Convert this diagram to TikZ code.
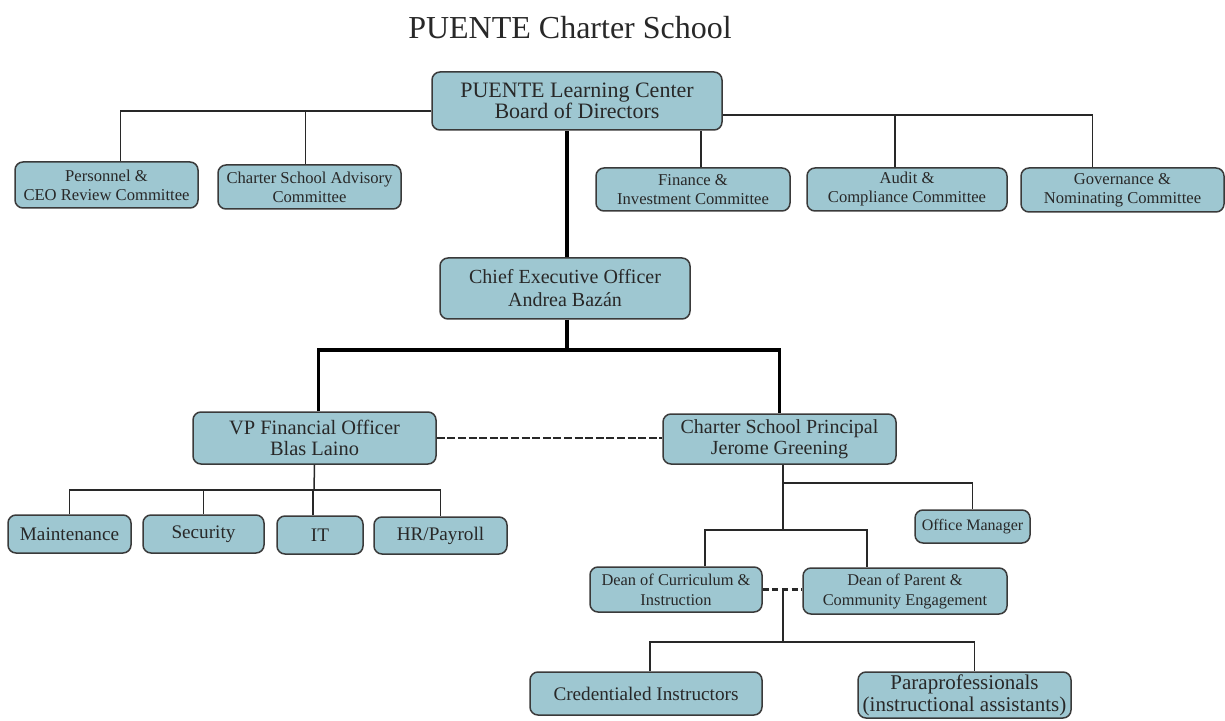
\documentclass[tikz,border=0pt]{standalone}
\usepackage{fontspec}
\setmainfont{Liberation Serif}
\definecolor{boxblue}{RGB}{158,199,209}
\definecolor{boxedge}{RGB}{58,58,58}
\definecolor{ink}{RGB}{40,40,40}
\newcommand{\fs}[2]{\fontsize{#1}{#2}\selectfont}
\begin{document}
\begin{tikzpicture}[x=0.5pt, y=-0.5pt]
        \tikzstyle{box} = [draw=boxedge, fill=boxblue, rounded corners=4pt, line width=0.75pt, align=center, text=ink, inner sep=0pt]
        \tikzstyle{conn} = [draw=ink, line width=0.75pt]
        \tikzstyle{thickconn} = [draw=black, line width=1.8pt]
        \tikzstyle{dashconn} = [draw=ink, line width=1.1pt, dash pattern=on 4pt off 1.3pt]
        \useasboundingbox (0,0) rectangle (1225,721);

        \node[text=ink, font=\fs{16}{18}] (title) at (570,28) {PUENTE Charter School};

        % board and committees
        \node[box, minimum width=145pt, minimum height=29pt, font=\fs{11}{10.5}] (board) at (577,101) {PUENTE Learning Center\\Board of Directors};
        \node[box, minimum width=91.5pt, minimum height=23pt, font=\fs{8.3}{9.5}] (pers) at (106.5,185) {Personnel \&\\CEO Review Committee};
        \node[box, minimum width=91.5pt, minimum height=22pt, font=\fs{8.3}{9.5}] (adv) at (309.5,187) {Charter School Advisory\\Committee};
        \node[box, minimum width=97pt, minimum height=21.5pt, font=\fs{8.3}{9.5}] (fin) at (693,189.5) {Finance \&\\Investment Committee};
        \node[box, minimum width=100pt, minimum height=21.5pt, font=\fs{8.3}{9.5}] (aud) at (907,189.5) {Audit \&\\Compliance Committee};
        \node[box, minimum width=101.5pt, minimum height=22pt, font=\fs{8.3}{9.5}] (gov) at (1122.5,190) {Governance \&\\Nominating Committee};

        % officers
        \node[box, minimum width=125pt, minimum height=30.5pt, font=\fs{10}{11.5}] (ceo) at (565,288.5) {Chief Executive Officer\\Andrea Bazán};
        \node[box, minimum width=121.5pt, minimum height=26pt, font=\fs{10.2}{10.5}] (vp) at (314.5,438) {VP Financial Officer\\Blas Laino};
        \node[box, minimum width=116.5pt, minimum height=25pt, font=\fs{10}{10.5}] (prin) at (779.5,439) {Charter School Principal\\Jerome Greening};

        % finance side
        \node[box, minimum width=61.5pt, minimum height=19pt, font=\fs{9.6}{11}] (maint) at (69.5,534) {Maintenance};
        \node[box, minimum width=60.5pt, minimum height=19pt, font=\fs{9.6}{11}] (sec) at (203.5,534) {Security};
        \node[box, minimum width=43pt, minimum height=19pt, font=\fs{9.6}{11}] (it) at (320,535) {IT};
        \node[box, minimum width=66.5pt, minimum height=18.5pt, font=\fs{9.6}{11}] (hr) at (440.5,535.5) {HR/Payroll};

        % school side
        \node[box, minimum width=57.5pt, minimum height=16.5pt, font=\fs{8}{9}] (office) at (972.5,526.5) {Office Manager};
        \node[box, minimum width=86pt, minimum height=22.5pt, font=\fs{8.2}{10}] (dcur) at (676,589.5) {Dean of Curriculum \&\\Instruction};
        \node[box, minimum width=102pt, minimum height=23pt, font=\fs{8.2}{10}] (dpar) at (905,591) {Dean of Parent \&\\Community Engagement};
        \node[box, minimum width=116pt, minimum height=21.5pt, font=\fs{9.6}{11}] (cred) at (646,693.5) {Credentialed Instructors};
        \node[box, minimum width=106.5pt, minimum height=23pt, font=\fs{10.5}{11}] (para) at (964.5,695) {Paraprofessionals\\(instructional assistants)};

        \coordinate (ceobus) at (567,350);
        \coordinate (vpbus) at (314,490);
        \coordinate (offbus) at (783,483);
        \coordinate (deanbus) at (783,530);
        \coordinate (instbus) at (783,642);

        % board to committees
        \draw[conn] ([yshift=-5pt]board.west) -| ([xshift=7pt]pers.north);
        \draw[conn] ([xshift=-2pt]adv.north) |- ([yshift=-5pt]board.west);
        \draw[conn] ([yshift=-7pt]board.east) -| ([xshift=-15pt]gov.north);
        \draw[conn] ([xshift=-6pt]aud.north) |- ([yshift=-7pt]board.east);
        \draw[conn] ([xshift=4pt]fin.north) -- ([xshift=4pt]fin.north |- board.south);

        % board to ceo to officers
        \draw[thickconn] ([xshift=1pt]ceo.north) -- ([xshift=1pt]ceo.north |- board.south);
        \draw[thickconn] (ceobus |- ceo.south) -- (ceobus);
        \draw[thickconn] ([xshift=2pt]vp.north) |- (ceobus) -| (prin.north);
        \draw[dashconn] (vp.east) -- (vp.east -| prin.west);

        % vp to departments
        \draw[conn] (vp.south) -- (vpbus);
        \draw[conn] (maint.north) |- (vpbus) -| (hr.north);
        \draw[conn] (sec.north) -- (sec.north |- vpbus);
        \draw[conn] ([xshift=-3.5pt]it.north) -- ([xshift=-3.5pt]it.north |- vpbus);

        % principal to staff
        \draw[conn] (deanbus |- prin.south) -- (deanbus);
        \draw[conn] (offbus) -| (office.north);
        \draw[conn] ([xshift=14.5pt]dcur.north) |- (deanbus) -| ([xshift=-19pt]dpar.north);
        \draw[dashconn, line width=1.3pt, dash pattern=on 3pt off 1.8pt] (dcur.east) -- (dcur.east -| dpar.west);
        \draw[conn] (instbus |- dcur.east) -- (instbus);
        \draw[conn] ([xshift=2pt]cred.north) |- (instbus) -| ([xshift=5pt]para.north);
    \end{tikzpicture}
\end{document}
